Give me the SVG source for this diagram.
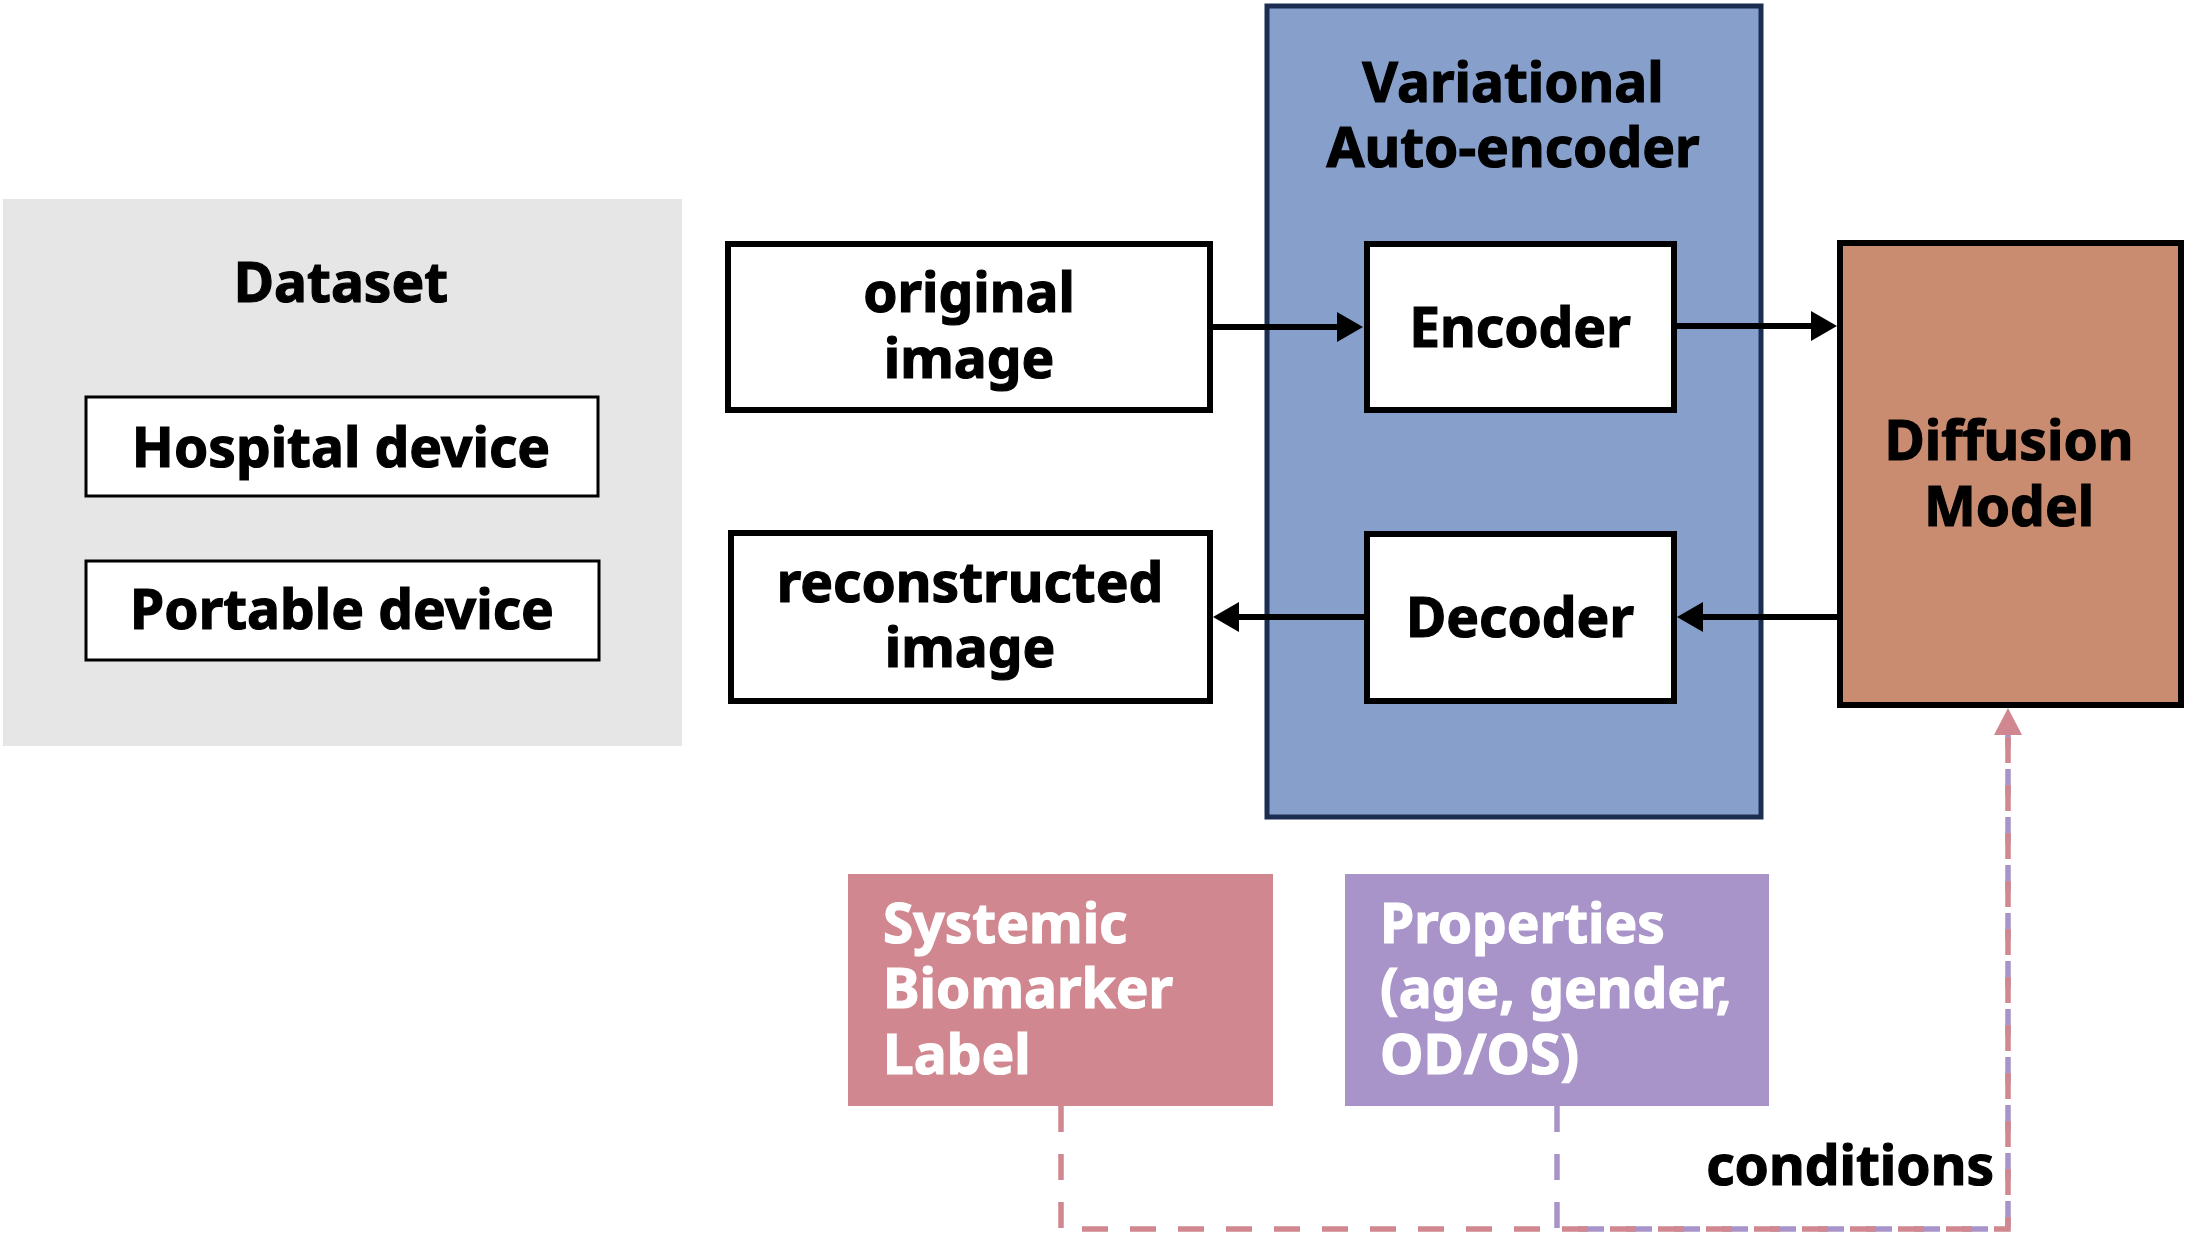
<svg xmlns="http://www.w3.org/2000/svg" width="2186" height="1237" viewBox="0 0 2186 1237">
<defs>
<style>
.t{font-family:"Noto Sans","Open Sans","DejaVu Sans",sans-serif;font-weight:700;font-size:55px;fill:#000;stroke:#000;stroke-width:1.2px}
.c{text-anchor:middle}
.w{fill:#fff;stroke:#fff}
.box{fill:#fff;stroke:#000;stroke-width:6}
.thin{fill:#fff;stroke:#000;stroke-width:3}
.arr{fill:none;stroke:#000;stroke-width:6}
.dp{fill:none;stroke:#d0878f;stroke-width:5.5;stroke-dasharray:26 22}
.dv{fill:none;stroke:#a894c9;stroke-width:5.5;stroke-dasharray:26 22}
</style>
<marker id="ah" viewBox="0 0 26 30" refX="20" refY="15" markerWidth="26" markerHeight="30" orient="auto" markerUnits="userSpaceOnUse"><path d="M0,0 L26,15 L0,30 z" fill="#000"/></marker>
<marker id="ahp" viewBox="0 0 27 28" refX="21" refY="14" markerWidth="27" markerHeight="28" orient="auto" markerUnits="userSpaceOnUse"><path d="M0,0 L27,14 L0,28 z" fill="#d0878f"/></marker>
</defs>
<g id="dataset">
<rect x="3" y="199" width="679" height="547" fill="#e6e6e6"/>
<text class="t c" x="341" y="302">Dataset</text>
</g>
<g id="hospital">
<rect class="thin" x="86" y="397" width="512" height="99"/>
<text class="t c" x="341" y="467">Hospital device</text>
</g>
<g id="portable">
<rect class="thin" x="86" y="561" width="513" height="99"/>
<text class="t c" x="342" y="629">Portable device</text>
</g>
<g id="vae">
<rect x="1267" y="6" width="494" height="811" fill="#879fcb" stroke="#1c2d52" stroke-width="5"/>
<text class="t c" x="1513" y="102">Variational</text>
<text class="t c" x="1513" y="167">Auto-encoder</text>
</g>
<g id="original">
<rect class="box" x="728" y="244" width="482" height="166"/>
<text class="t c" x="969" y="312">original</text>
<text class="t c" x="969" y="378">image</text>
</g>
<g id="reconstructed">
<rect class="box" x="731" y="533" width="479" height="168"/>
<text class="t c" x="970" y="602">reconstructed</text>
<text class="t c" x="970" y="667">image</text>
</g>
<g id="encoder">
<rect class="box" x="1367" y="244" width="307" height="166"/>
<text class="t c" x="1520" y="347">Encoder</text>
</g>
<g id="decoder">
<rect class="box" x="1367" y="534" width="307" height="167"/>
<text class="t c" x="1520" y="637">Decoder</text>
</g>
<g id="diffusion">
<rect x="1840" y="243" width="341" height="462" fill="#c98c70" stroke="#000" stroke-width="6"/>
<text class="t c" x="2009" y="460">Diffusion</text>
<text class="t c" x="2009" y="526">Model</text>
</g>
<g id="biomarker">
<rect x="848" y="874" width="425" height="232" fill="#d0878f"/>
<text class="t w" x="883" y="943">Systemic</text>
<text class="t w" x="883" y="1008">Biomarker</text>
<text class="t w" x="883" y="1074">Label</text>
</g>
<g id="properties">
<rect x="1345" y="874" width="424" height="232" fill="#a894c9"/>
<text class="t w" x="1380" y="943">Properties</text>
<text class="t w" x="1380" y="1008">(age, gender,</text>
<text class="t w" x="1380" y="1074">OD/OS)</text>
</g>
<g id="connectors">
<path class="arr" d="M1210,327 H1357" marker-end="url(#ah)"/>
<path class="arr" d="M1674,326 H1831" marker-end="url(#ah)"/>
<path class="arr" d="M1840,617 H1683" marker-end="url(#ah)"/>
<path class="arr" d="M1367,617 H1219" marker-end="url(#ah)"/>
<path class="dv" d="M1557,1106 V1229 H2008 V714"/>
<path class="dp" d="M1061,1106 V1229 H2008 V714" marker-end="url(#ahp)"/>
<text class="t" x="1994" y="1185" text-anchor="end">conditions</text>
</g>
</svg>
